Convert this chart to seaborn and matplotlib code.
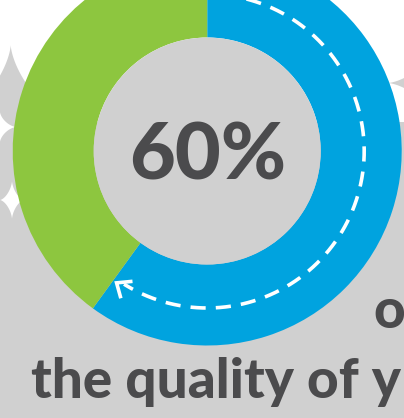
import numpy as np
import matplotlib
matplotlib.use("Agg")
import matplotlib.pyplot as plt
import seaborn as sns
from matplotlib.patches import Polygon, Circle, Rectangle

# ---- data ----
labels = ["Yes", "No"]
shares = [60, 40]
center_label = "60%"
line_top = "o"
line_bottom = "the quality of y"

sns.set_theme(style="white")
plt.rcParams["font.family"] = ["Lato", "DejaVu Sans"]

BLUE = "#00a3df"
GREEN = "#8dc63f"
GRAY = "#d0d0d0"
TEXT = "#4b4b4d"

W, H = 404, 418
fig = plt.figure(figsize=(W / 100, H / 100), dpi=100, facecolor="white")
ax = fig.add_axes([0, 0, 1, 1])


def Y(y):
    return H - y


def sparkle(cx, cy, rx, ry, p=3.0, n=600):
    t = np.linspace(0, 2 * np.pi, n)
    c, s = np.cos(t), np.sin(t)
    x = cx + rx * np.sign(c) * np.abs(c) ** p
    y = cy + ry * np.sign(s) * np.abs(s) ** p
    return np.column_stack([x, Y(y)])


# background gray shapes
ax.add_patch(Rectangle((0, 0), W, Y(122), color=GRAY, zorder=0, lw=0))
ax.add_patch(Polygon(sparkle(10.7, 135, 90, 90), closed=True, color=GRAY, zorder=0, lw=0))
ax.add_patch(Polygon(sparkle(445, 83, 57, 57), closed=True, color=GRAY, zorder=0, lw=0))
# white sparkles
ax.add_patch(Polygon(sparkle(0, 127, 16, 15), closed=True, color="white", zorder=0.5, lw=0))
ax.add_patch(Polygon(sparkle(12, 200, 12, 19), closed=True, color="white", zorder=0.5, lw=0))

cx, cy = 207.2, Y(151)
R_out, R_in = 194.5, 113.5

colors = sns.color_palette([BLUE, GREEN])
ax.pie(shares, labels=None, colors=colors, center=(cx, cy), radius=R_out,
       startangle=90, counterclock=False,
       wedgeprops=dict(width=R_out - R_in, linewidth=0, edgecolor="none"))
ax.add_patch(Circle((cx, cy), R_in, color=GRAY, zorder=2, lw=0))

# dashed arrow arc (clockwise)
r_arc = 157
phi = np.radians(np.linspace(3, 212, 400))
ax.plot(cx + r_arc * np.sin(phi), cy + r_arc * np.cos(phi), color="white",
        lw=2.6, dashes=(4.2, 2.8), solid_capstyle="butt", dash_capstyle="butt", zorder=3)
tip_phi = np.radians(214.5)
tip = np.array([cx + 160 * np.sin(tip_phi), cy + 160 * np.cos(tip_phi)])
back = -np.array([np.cos(tip_phi), -np.sin(tip_phi)])
L = 16
arms = []
for a in (np.radians(40), np.radians(-40)):
    rot = np.array([[np.cos(a), -np.sin(a)], [np.sin(a), np.cos(a)]])
    arms.append(tip + L * rot @ back)
ax.plot([arms[0][0], tip[0], arms[1][0]], [arms[0][1], tip[1], arms[1][1]],
        color="white", lw=2.6, solid_joinstyle="miter", solid_capstyle="butt", zorder=3)

ax.text(cx, cy, center_label, ha="center", va="center_baseline", fontsize=57,
        fontweight="black", color=TEXT, zorder=4)
ax.text(373, Y(328), line_top, ha="left", va="baseline", fontsize=39.5,
        fontweight="black", color=TEXT, zorder=4)
ax.text(31, Y(398), line_bottom, ha="left", va="baseline", fontsize=39.5,
        fontweight="black", color=TEXT, zorder=4)

ax.set_xlim(0, W)
ax.set_ylim(0, H)
ax.set_aspect("equal")
ax.set_axis_off()
fig.savefig("out.png", dpi=100, facecolor="white")
